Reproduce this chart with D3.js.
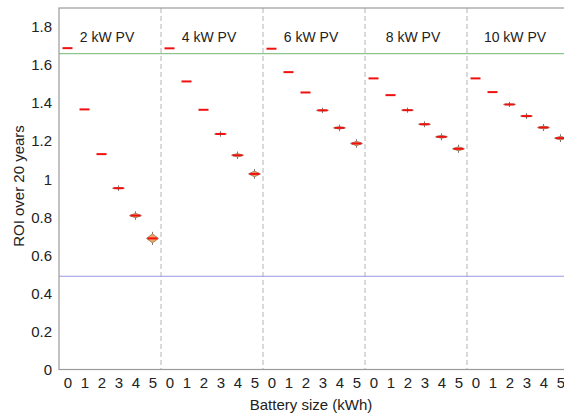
<!DOCTYPE html>
<html>
<head>
<meta charset="utf-8">
<script src="https://cdn.jsdelivr.net/npm/d3@7"></script>
<style>
  body { margin: 0; background: #fff; }
  text { font-family: "Liberation Sans", Arial, sans-serif; fill: #222; }
</style>
</head>
<body>
<svg id="chart"></svg>
<script>
var w = 564;
var h = 416;
var margin = { top: 8, right: -5, bottom: 46.5, left: 59 };

// PV sizes (one panel each) and battery sizes
var pvLabels = ["2 kW PV", "4 kW PV", "6 kW PV", "8 kW PV", "10 kW PV"];
var batteries = [0, 1, 2, 3, 4, 5];

// median ROI per battery size, one array per PV size
var roi2 = [1.689, 1.367, 1.132, 0.953, 0.809, 0.689];
var roi4 = [1.688, 1.514, 1.365, 1.238, 1.126, 1.028];
var roi6 = [1.686, 1.563, 1.456, 1.362, 1.270, 1.188];
var roi8 = [1.530, 1.442, 1.363, 1.289, 1.223, 1.160];
var roi10 = [1.530, 1.458, 1.393, 1.332, 1.272, 1.216];

// half height of the notch around the median
var spread2 = [0, 0, 0, 0.004, 0.012, 0.024];
var spread4 = [0, 0, 0, 0.004, 0.009, 0.015];
var spread6 = [0, 0, 0, 0.004, 0.007, 0.012];
var spread8 = [0, 0, 0.003, 0.005, 0.008, 0.011];
var spread10 = [0, 0, 0.003, 0.005, 0.008, 0.010];

// reference lines
var upperLine = 1.66;
var lowerLine = 0.49;

var yTicks = [0, 0.2, 0.4, 0.6, 0.8, 1, 1.2, 1.4, 1.6, 1.8];

var allRoi = [roi2, roi4, roi6, roi8, roi10];
var allSpread = [spread2, spread4, spread6, spread8, spread10];

// flatten into one row per box
var data = [];
allRoi.forEach(function(series, g) {
  series.forEach(function(v, i) {
    data.push({ group: g, battery: batteries[i], idx: g * batteries.length + i, med: v, s: allSpread[g][i] });
  });
});

var svg = d3.select("#chart")
  .attr("width", w)
  .attr("height", h);

var x = d3.scalePoint()
  .domain(d3.range(data.length))
  .range([margin.left, w - margin.right])
  .padding(0.5);

var y = d3.scaleLinear()
  .domain([0, 1.9])
  .range([h - margin.bottom, margin.top]);

var step = x.step();
var plotRight = w - margin.right;

// panel dividers
svg.append("g")
  .selectAll("line")
  .data(d3.range(1, pvLabels.length))
  .enter()
  .append("line")
  .attr("x1", function(d) { return x(d * batteries.length) - step / 2; })
  .attr("x2", function(d) { return x(d * batteries.length) - step / 2; })
  .attr("y1", y(1.9))
  .attr("y2", y(0))
  .attr("stroke", "#b4b4b4")
  .attr("stroke-width", 1)
  .attr("stroke-dasharray", "5 3");

// reference lines
svg.append("line")
  .attr("x1", margin.left).attr("x2", plotRight)
  .attr("y1", y(upperLine)).attr("y2", y(upperLine))
  .attr("stroke", "#8cc68c").attr("stroke-width", 1.2);

svg.append("line")
  .attr("x1", margin.left).attr("x2", plotRight)
  .attr("y1", y(lowerLine)).attr("y2", y(lowerLine))
  .attr("stroke", "#9a9ae0").attr("stroke-width", 1.2);

// axis frame
svg.append("rect")
  .attr("x", margin.left)
  .attr("y", margin.top)
  .attr("width", plotRight - margin.left)
  .attr("height", y(0) - margin.top)
  .attr("fill", "none")
  .attr("stroke", "#9a9a9a")
  .attr("stroke-width", 1.2);

// y axis
var yAxis = svg.append("g")
  .attr("transform", "translate(" + margin.left + ",0)")
  .call(d3.axisLeft(y).tickValues(yTicks).tickSize(0).tickPadding(7).tickFormat(d3.format("~g")));
yAxis.select(".domain").remove();
yAxis.selectAll("text")
  .style("font-size", "15px")
  .attr("fill", "#222");

// x axis, battery size repeated per panel
var xAxis = svg.append("g")
  .attr("transform", "translate(0," + y(0) + ")")
  .call(d3.axisBottom(x).tickSize(0).tickPadding(8).tickFormat(function(i) { return data[i].battery; }));
xAxis.select(".domain").remove();
xAxis.selectAll("text")
  .style("font-size", "15px")
  .attr("fill", "#222");

// panel titles
svg.append("g")
  .selectAll("text")
  .data(pvLabels)
  .enter()
  .append("text")
  .attr("x", function(d, i) { return x(i * batteries.length) - step / 2 + step * 3 - 3; })
  .attr("y", 42)
  .attr("text-anchor", "middle")
  .style("font-size", "14px")
  .text(function(d) { return d; });

// notched boxes
var bw = 6;
var boxes = svg.append("g")
  .selectAll("g")
  .data(data)
  .enter()
  .append("g");

boxes.filter(function(d) { return d.s > 0; })
  .append("line")
  .attr("x1", function(d) { return x(d.idx); })
  .attr("x2", function(d) { return x(d.idx); })
  .attr("y1", function(d) { return y(d.med + d.s) - 2; })
  .attr("y2", function(d) { return y(d.med - d.s) + 2; })
  .attr("stroke", "#777")
  .attr("stroke-width", 1);

boxes.filter(function(d) { return d.s > 0; })
  .append("path")
  .attr("d", function(d) {
    var cx = x(d.idx), cy = y(d.med);
    var top = y(d.med + d.s), bot = y(d.med - d.s);
    return "M" + (cx - bw) + "," + cy +
      "L" + cx + "," + top +
      "L" + (cx + bw) + "," + cy +
      "L" + cx + "," + bot + "Z";
  })
  .attr("fill", "#f2a35c")
  .attr("stroke", "#8a7a6a")
  .attr("stroke-width", 0.8);

// median dash
boxes.append("line")
  .attr("x1", function(d) { return x(d.idx) - 5; })
  .attr("x2", function(d) { return x(d.idx) + 5; })
  .attr("y1", function(d) { return y(d.med); })
  .attr("y2", function(d) { return y(d.med); })
  .attr("stroke", "#f01010")
  .attr("stroke-width", 2);

// axis labels
svg.append("text")
  .attr("x", 311)
  .attr("y", 410)
  .attr("text-anchor", "middle")
  .style("font-size", "15px")
  .text("Battery size (kWh)");

svg.append("text")
  .attr("transform", "translate(24,186) rotate(-90)")
  .attr("text-anchor", "middle")
  .style("font-size", "15px")
  .text("ROI over 20 years");
</script>
</body>
</html>
